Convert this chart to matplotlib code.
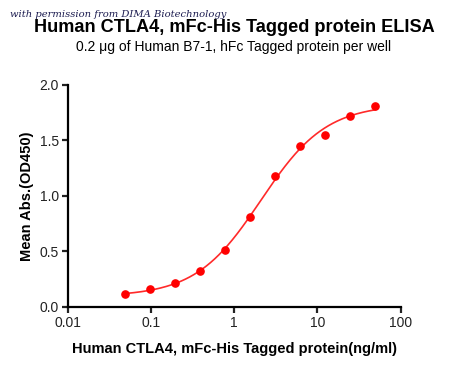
import numpy as np
import matplotlib
matplotlib.use('Agg')
import matplotlib.pyplot as plt

# measured points (ng/ml, OD450)
conc = [0.049, 0.098, 0.195, 0.39, 0.78, 1.56, 3.125, 6.25, 12.5, 25, 50]
od450 = [0.117, 0.159, 0.216, 0.324, 0.516, 0.811, 1.177, 1.453, 1.547, 1.723, 1.805]

# 4PL fit parameters (least squares on the points above)
fit_bottom = 0.0937
fit_top = 1.8256
fit_ec50 = 2.09
fit_hill = 1.106

xticks = [0.01, 0.1, 1, 10, 100]
xtick_labels = ['0.01', '0.1', '1', '10', '100']
yticks = [0.0, 0.5, 1.0, 1.5, 2.0]


def four_pl(x):
    return fit_bottom + (fit_top - fit_bottom) / (1 + (fit_ec50 / x) ** fit_hill)


plt.rcParams['font.family'] = ['Liberation Sans', 'DejaVu Sans']

fig = plt.figure(figsize=(4.5, 3.72), dpi=100)
ax = fig.add_axes([0.151, 0.175, 0.739, 0.597])

xs = np.logspace(np.log10(conc[0]), np.log10(conc[-1]), 300)
ax.plot(xs, four_pl(xs), color='#ff2a2a', lw=1.2, zorder=2)
ax.plot(conc, od450, 'o', color='#ff0000', ms=5.2, zorder=3)

ax.set_xscale('log')
ax.set_xlim(0.01, 100)
ax.set_ylim(0, 2.0)
ax.set_xticks(xticks)
ax.set_xticklabels(xtick_labels)
ax.xaxis.set_minor_locator(matplotlib.ticker.NullLocator())
ax.set_yticks(yticks)
ax.set_yticklabels(['%.1f' % v for v in yticks])

for side in ['top', 'right']:
    ax.spines[side].set_visible(False)
for side in ['left', 'bottom']:
    ax.spines[side].set_linewidth(1.6)
ax.tick_params(width=1.6, length=4, labelsize=10, colors='#222222',
               labelcolor='#222222', pad=2.5)

ax.set_xlabel('Human CTLA4, mFc-His Tagged protein(ng/ml)', fontsize=10.5,
              fontweight='bold', labelpad=9)
ax.set_ylabel('Mean Abs.(OD450)', fontsize=10.5, fontweight='bold', labelpad=4)

fig.text(0.52, 0.925, 'Human CTLA4, mFc-His Tagged protein ELISA', ha='center',
         va='center', fontsize=13.1, fontweight='bold')
fig.text(0.52, 0.873, '0.2 \u03bcg of Human B7-1, hFc Tagged protein per well',
         ha='center', va='center', fontsize=10)
fig.text(0.022, 0.962, 'with permission from DIMA Biotechnology', ha='left',
         va='center', fontsize=7.2, style='italic', family='DejaVu Serif',
         color='#1c1c50')

fig.savefig('out.png', dpi=100)
